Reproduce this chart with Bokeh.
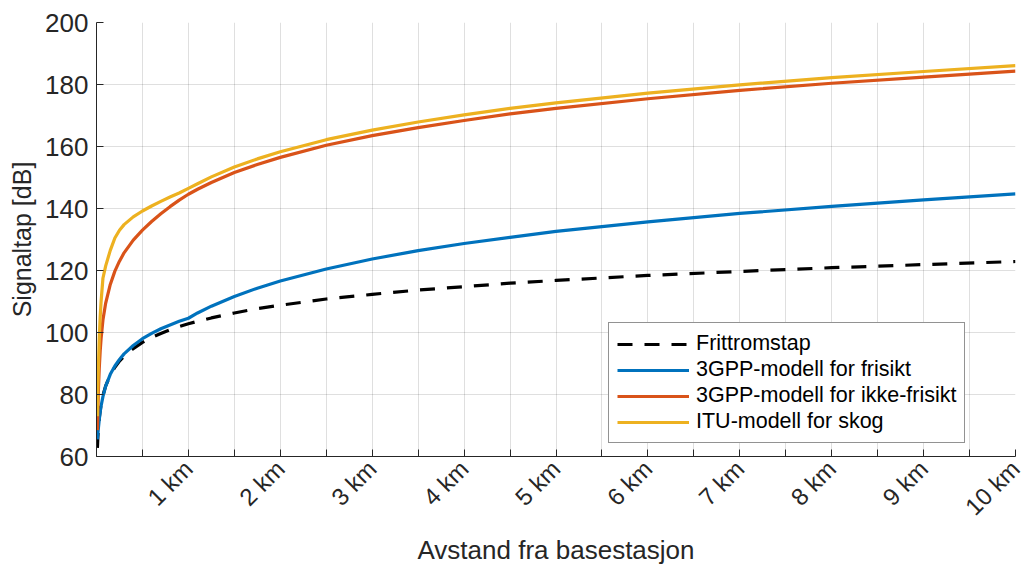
import math
from bokeh.plotting import figure
from bokeh.models import FixedTicker, Legend, LegendItem, ColumnDataSource
from bokeh.embed import file_html
from bokeh.resources import INLINE

# distance from base station [km]
dist_km = [0.01, 0.015, 0.02, 0.03, 0.04, 0.05, 0.07, 0.1, 0.15, 0.2, 0.25, 0.3,
           0.4, 0.5, 0.6, 0.7, 0.8, 0.9, 1.0, 1.1, 1.25, 1.5, 1.75, 2.0, 2.5, 3.0,
           3.5, 4.0, 4.5, 5.0, 6.0, 7.0, 8.0, 9.0, 10.0]

# path loss [dB]
frittromstap = [62.8, 66.3, 68.8, 72.3, 74.8, 76.8, 79.7, 82.8, 86.3, 88.8, 90.8, 92.3,
                94.8, 96.8, 98.4, 99.7, 100.9, 101.9, 102.8, 103.6, 104.7, 106.3, 107.7, 108.8, 110.8, 112.3,
                113.7, 114.8, 115.9, 116.8, 118.4, 119.7, 120.9, 121.9, 122.9]
gpp_los = [65.5, 67.3, 69.0, 71.9, 74.3, 76.3, 79.3, 82.7, 86.5, 89.2, 91.3, 93.1,
           95.8, 98.0, 99.7, 101.2, 102.4, 103.6, 104.6, 106.3, 108.5, 111.6, 114.3, 116.6, 120.5, 123.7,
           126.4, 128.7, 130.7, 132.6, 135.7, 138.4, 140.7, 142.8, 144.7]
gpp_nlos = [68.5, 75.0, 81.0, 88.5, 94.0, 98.0, 104.0, 109.5, 115.5, 119.8, 123.0, 125.7,
            129.8, 133.0, 135.8, 138.3, 140.6, 142.7, 144.6, 146.2, 148.4, 151.6, 154.2, 156.5, 160.4, 163.5,
            166.1, 168.4, 170.5, 172.3, 175.4, 178.1, 180.4, 182.4, 184.3]
itu_skog = [73.0, 82.0, 88.0, 98.0, 105.0, 110.0, 117.5, 121.5, 126.5, 130.5, 133.0, 134.8,
            137.3, 139.2, 140.8, 142.3, 143.7, 145.0, 146.5, 148.0, 150.2, 153.4, 156.0, 158.3, 162.2, 165.3,
            167.9, 170.2, 172.3, 174.1, 177.2, 179.9, 182.2, 184.2, 186.1]

x_ticks = [0, 0.5, 1, 1.5, 2, 2.5, 3, 3.5, 4, 4.5, 5, 5.5, 6, 6.5, 7, 7.5, 8, 8.5, 9, 9.5, 10]
x_labels = {1: "1 km", 2: "2 km", 3: "3 km", 4: "4 km", 5: "5 km",
            6: "6 km", 7: "7 km", 8: "8 km", 9: "9 km", 10: "10 km"}
y_ticks = [60, 80, 100, 120, 140, 160, 180, 200]

FONT = "Liberation Sans"
TXT = "#262626"

p = figure(width=1035, height=568, x_range=(0, 10), y_range=(60, 200),
           output_backend="svg", toolbar_location=None,
           min_border_left=96, min_border_right=20, min_border_top=22, min_border_bottom=112)
p.outline_line_color = None
p.background_fill_color = "white"

src = ColumnDataSource(dict(x=dist_km, fs=frittromstap, los=gpp_los, nlos=gpp_nlos, itu=itu_skog))

r0 = p.line("x", "fs", source=src, line_color="black", line_width=3.2, line_dash="15 12")
r1 = p.line("x", "los", source=src, line_color="#0072BD", line_width=3.2)
r2 = p.line("x", "nlos", source=src, line_color="#D95319", line_width=3.2)
r3 = p.line("x", "itu", source=src, line_color="#EDB120", line_width=3.2)

# axes
p.xaxis.ticker = FixedTicker(ticks=x_ticks)
overrides = {}
for t in x_ticks:
    key = int(t) if float(t).is_integer() else t
    overrides[t] = x_labels.get(key, "")
p.xaxis.major_label_overrides = overrides
p.xaxis.major_label_orientation = math.pi / 4
p.yaxis.ticker = FixedTicker(ticks=y_ticks)

for ax in (p.xaxis, p.yaxis):
    ax.axis_line_color = TXT
    ax.axis_line_width = 1
    ax.major_tick_line_color = TXT
    ax.major_tick_in = 7
    ax.major_tick_out = 0
    ax.minor_tick_line_color = None
    ax.major_label_text_font = FONT
    ax.major_label_text_color = TXT
    ax.axis_label_text_font = FONT
    ax.axis_label_text_font_style = "normal"
    ax.axis_label_text_color = TXT

p.yaxis.major_label_text_font_size = "26px"
p.xaxis.major_label_text_font_size = "24px"
p.xaxis.axis_label_text_font_size = "26px"
p.yaxis.axis_label_text_font_size = "25px"
p.xaxis.axis_label = "Avstand fra basestasjon"
p.yaxis.axis_label = "Signaltap [dB]"
p.xaxis.major_label_standoff = 8
p.yaxis.major_label_standoff = 8
p.xaxis.axis_label_standoff = 2
p.yaxis.axis_label_standoff = 6

for g in (p.xgrid, p.ygrid):
    g.grid_line_color = TXT
    g.grid_line_alpha = 0.15
    g.grid_line_width = 1
p.xgrid.ticker = FixedTicker(ticks=x_ticks)
p.ygrid.ticker = FixedTicker(ticks=y_ticks)

legend = Legend(items=[
    LegendItem(label="Frittromstap", renderers=[r0]),
    LegendItem(label="3GPP-modell for frisikt", renderers=[r1]),
    LegendItem(label="3GPP-modell for ikke-frisikt", renderers=[r2]),
    LegendItem(label="ITU-modell for skog", renderers=[r3]),
], location=(512, 13))
legend.border_line_color = TXT
legend.border_line_width = 1
legend.background_fill_color = "white"
legend.background_fill_alpha = 1
legend.label_text_font = FONT
legend.label_text_font_size = "21.5px"
legend.label_text_color = "black"
legend.glyph_width = 72
legend.glyph_height = 22
legend.label_height = 22
legend.spacing = 1
legend.padding = 8
legend.margin = 0
legend.label_standoff = 7
p.add_layout(legend)

open("out.html", "w").write(file_html(p, INLINE))
